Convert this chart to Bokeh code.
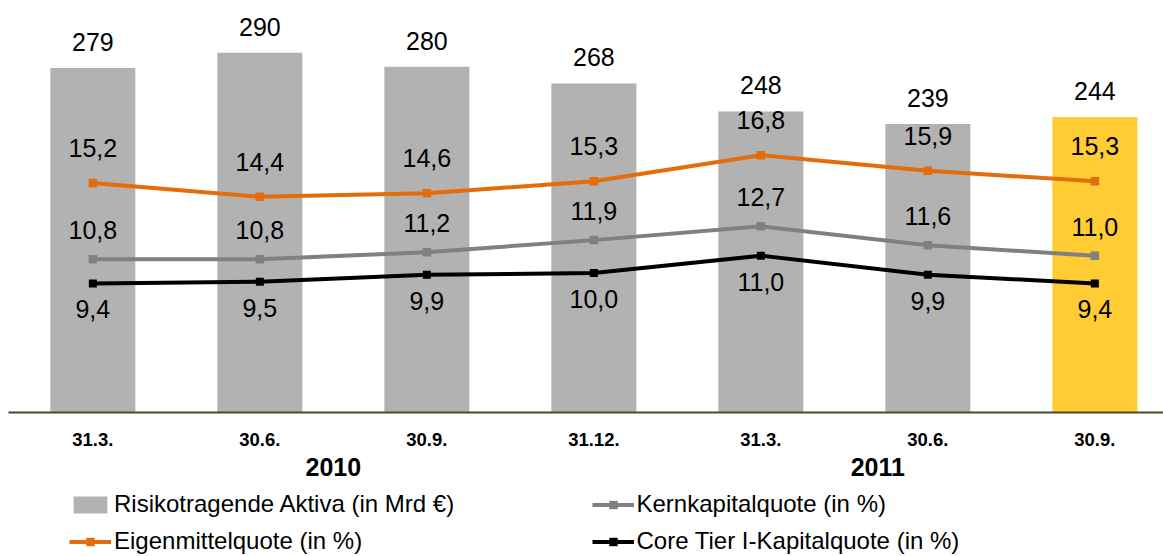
from bokeh.plotting import figure
from bokeh.layouts import column
from bokeh.models import (ColumnDataSource, Range1d, LinearAxis, FixedTicker,
                          Legend, LegendItem)
from bokeh.core.properties import value
from bokeh.embed import file_html
from bokeh.resources import INLINE

# ---------------- data ----------------
dates = ["31.3.", "30.6.", "30.9.", "31.12.", "31.3.", "30.6.", "30.9."]
years = ["2010", "2011"]
rwa = [279, 290, 280, 268, 248, 239, 244]                    # Risikotragende Aktiva (Mrd €)
eigenmittel = [15.2, 14.4, 14.6, 15.3, 16.8, 15.9, 15.3]      # Eigenmittelquote (%)
kernkapital = [10.8, 10.8, 11.2, 11.9, 12.7, 11.6, 11.0]      # Kernkapitalquote (%)
core_tier1 = [9.4, 9.5, 9.9, 10.0, 11.0, 9.9, 9.4]            # Core Tier I-Kapitalquote (%)

series_names = ["Risikotragende Aktiva (in Mrd €)", "Eigenmittelquote (in %)",
                "Kernkapitalquote (in %)", "Core Tier I-Kapitalquote (in %)"]

# ---------------- style ----------------
FONT = "Liberation Sans"
BAR_GRAY = "#B2B2B2"
BAR_HIGHLIGHT = "#FFCC33"
ORANGE = "#E46C0A"
GRAY = "#808080"
BLACK = "#000000"
AXIS_COLOR = "#4A4A28"

def de(v):
    return f"{v:.1f}".replace(".", ",")

x = list(range(len(dates)))
bar_colors = [BAR_GRAY] * (len(dates) - 1) + [BAR_HIGHLIGHT]

src = ColumnDataSource(dict(
    x=x,
    rwa=rwa,
    rwa_lbl=[str(v) for v in rwa],
    em=eigenmittel, em_lbl=[de(v) for v in eigenmittel],
    kk=kernkapital, kk_lbl=[de(v) for v in kernkapital],
    ct=core_tier1, ct_lbl=[de(v) for v in core_tier1],
    color=bar_colors,
))

line_styles = (("em", ORANGE, 8.5), ("kk", GRAY, 8.5), ("ct", BLACK, 8))

# ---------------- main chart ----------------
p = figure(width=1163, height=488,
           x_range=Range1d(-0.505, 6.411),
           y_range=Range1d(32.6, 321.6),
           output_backend="svg", toolbar_location=None,
           y_axis_location=None,
           min_border_left=8, min_border_right=0, min_border_top=8,
           min_border_bottom=76, outline_line_color=None,
           background_fill_color="white", border_fill_color="white")
p.extra_y_ranges = {"pct": Range1d(1.95, 25.27)}
p.grid.visible = False

p.vbar(x="x", top="rwa", bottom=0, width=0.509, source=src,
       fill_color="color", line_color=None)

for col, colr, msize in line_styles:
    p.line("x", col, source=src, y_range_name="pct", line_color=colr, line_width=4)
    p.scatter("x", col, source=src, y_range_name="pct", marker="square",
              size=msize, fill_color=colr, line_color=None)

txt = dict(source=src, text_font=value(FONT), text_font_size="25px",
           text_align="center", text_baseline="middle", text_color="black")
p.text("x", "rwa", text="rwa_lbl", y_offset=-26, **txt)
p.text("x", "em", text="em_lbl", y_offset=-35, y_range_name="pct", **txt)
p.text("x", "kk", text="kk_lbl", y_offset=-29, y_range_name="pct", **txt)
p.text("x", "ct", text="ct_lbl", y_offset=26, y_range_name="pct", **txt)

# category axis
xa = p.xaxis[0]
xa.ticker = FixedTicker(ticks=x)
xa.major_label_overrides = {i: d for i, d in zip(x, dates)}
xa.axis_line_color = AXIS_COLOR
xa.axis_line_width = 2
xa.major_tick_line_color = None
xa.minor_tick_line_color = None
xa.major_label_text_font = FONT
xa.major_label_text_font_style = "bold"
xa.major_label_text_font_size = "18.5px"
xa.major_label_text_color = "black"
xa.major_label_standoff = 14

# year axis
group_pos = [1.44, 4.70]
ya = LinearAxis(ticker=FixedTicker(ticks=group_pos),
                major_label_overrides={g: y for g, y in zip(group_pos, years)},
                axis_line_color=None, major_tick_line_color=None,
                minor_tick_line_color=None,
                major_label_text_font=FONT, major_label_text_font_style="bold",
                major_label_text_font_size="25px", major_label_text_color="black",
                major_label_standoff=3)
p.add_layout(ya, "below")

# ---------------- legend strip ----------------
# same series drawn far outside the visible range, so only legend swatches show
q = figure(width=1163, height=68, x_range=Range1d(-0.505, 6.411),
           y_range=Range1d(5000, 5001),
           output_backend="svg", toolbar_location=None,
           x_axis_location=None, y_axis_location=None,
           min_border_left=0, min_border_right=0, min_border_top=0,
           min_border_bottom=0, outline_line_color=None,
           background_fill_color="white", border_fill_color="white")
q.grid.visible = False
r_bar = q.vbar(x="x", top="rwa", width=0.5, source=src,
               fill_color=BAR_GRAY, line_color=None)
proxies = {}
for col, colr, msize in line_styles:
    proxies[col] = [q.line("x", col, source=src, line_color=colr, line_width=4),
                    q.scatter("x", col, source=src, marker="square", size=msize,
                              fill_color=colr, line_color=None)]

leg_style = dict(label_text_font=FONT, label_text_font_size="24px",
                 label_text_color="black", glyph_width=42, glyph_height=21,
                 label_height=28, label_standoff=3, spacing=9,
                 padding=0, margin=0, border_line_alpha=0,
                 background_fill_alpha=0, orientation="vertical")
leg1 = Legend(items=[LegendItem(label=series_names[0], renderers=[r_bar], index=0),
                     LegendItem(label=series_names[1], renderers=proxies["em"])],
              location=(61, 1), **leg_style)
leg2 = Legend(items=[LegendItem(label=series_names[2], renderers=proxies["kk"]),
                     LegendItem(label=series_names[3], renderers=proxies["ct"])],
              location=(583.5, 1), **leg_style)
q.add_layout(leg1)
q.add_layout(leg2)

open("out.html", "w").write(file_html(column(p, q, spacing=0), INLINE))
